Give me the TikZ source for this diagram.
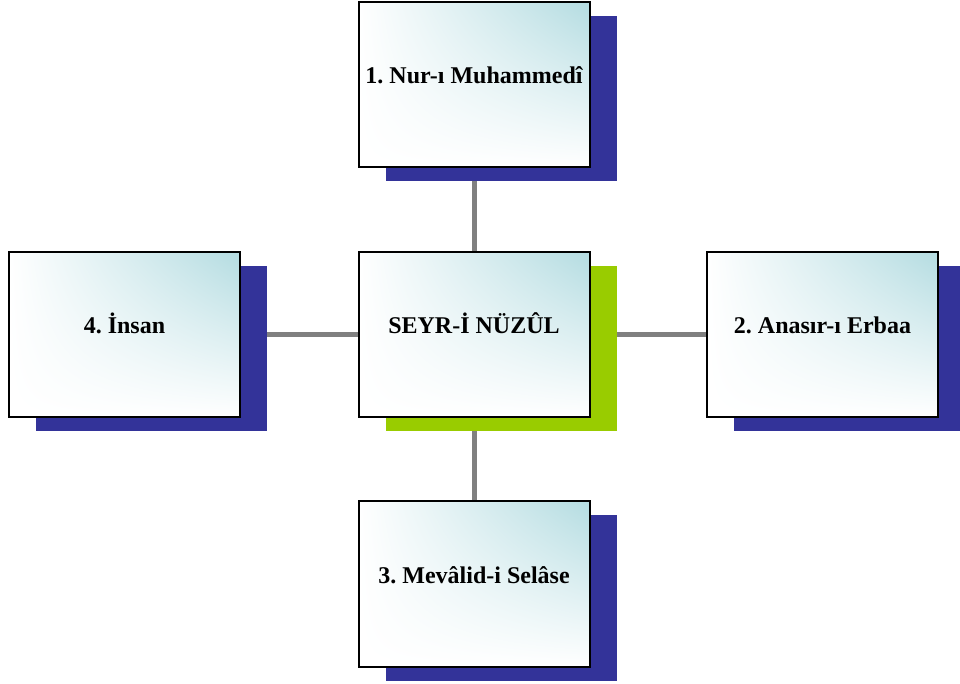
\documentclass[tikz,border=0pt]{standalone}
\usepackage{fontspec}
\setmainfont{Liberation Serif}
\usetikzlibrary{shadows,shadings,backgrounds}
\definecolor{shadowblue}{RGB}{51,51,153}
\definecolor{shadowgreen}{RGB}{153,204,0}
\definecolor{cyanlight}{RGB}{180,220,225}
\definecolor{linkgray}{RGB}{128,128,128}
\frenchspacing
\tikzset{
	box/.style={draw=black, line width=1pt, minimum width=115.5pt, minimum height=82.5pt,
		upper right=cyanlight, upper left=white, lower left=white, lower right=white,
		text height=10pt, text depth=11pt, inner xsep=2pt, font=\fontsize{12}{15}\bfseries},
	blueshadow/.style={general shadow={fill=shadowblue, shadow xshift=13.5pt, shadow yshift=-7pt}},
	greenshadow/.style={general shadow={fill=shadowgreen, shadow xshift=13.5pt, shadow yshift=-7pt}},
	link/.style={draw=linkgray, line width=2.5pt}
}
\begin{document}
\begin{tikzpicture}[x=0.5pt, y=-0.5pt]
	%%%%% START %%%%%
	\useasboundingbox (0, 0) rectangle (960, 684);
	
	\node[box, greenshadow] (seyr) at (474, 335) {SEYR-İ NÜZÛL};
	\node[box, blueshadow] (nur) at (474, 85) {1. Nur-ı Muhammedî};
	\node[box, blueshadow] (anasir) at (822.5, 335) {2. Anasır-ı Erbaa};
	\node[box, blueshadow] (mevalid) at (474, 584) {3. Mevâlid-i Selâse};
	\node[box, blueshadow] (insan) at (124.5, 335) {4. İnsan};
	
	\begin{pgfonlayer}{background}
		\draw[link] (nur.south) -- (seyr.north);
		\draw[link] (seyr.east) -- (anasir.west);
		\draw[link] (seyr.south) -- (mevalid.north);
		\draw[link] (seyr.west) -- (insan.east);
	\end{pgfonlayer}
	%%%%% END %%%%%
\end{tikzpicture}
\end{document}
